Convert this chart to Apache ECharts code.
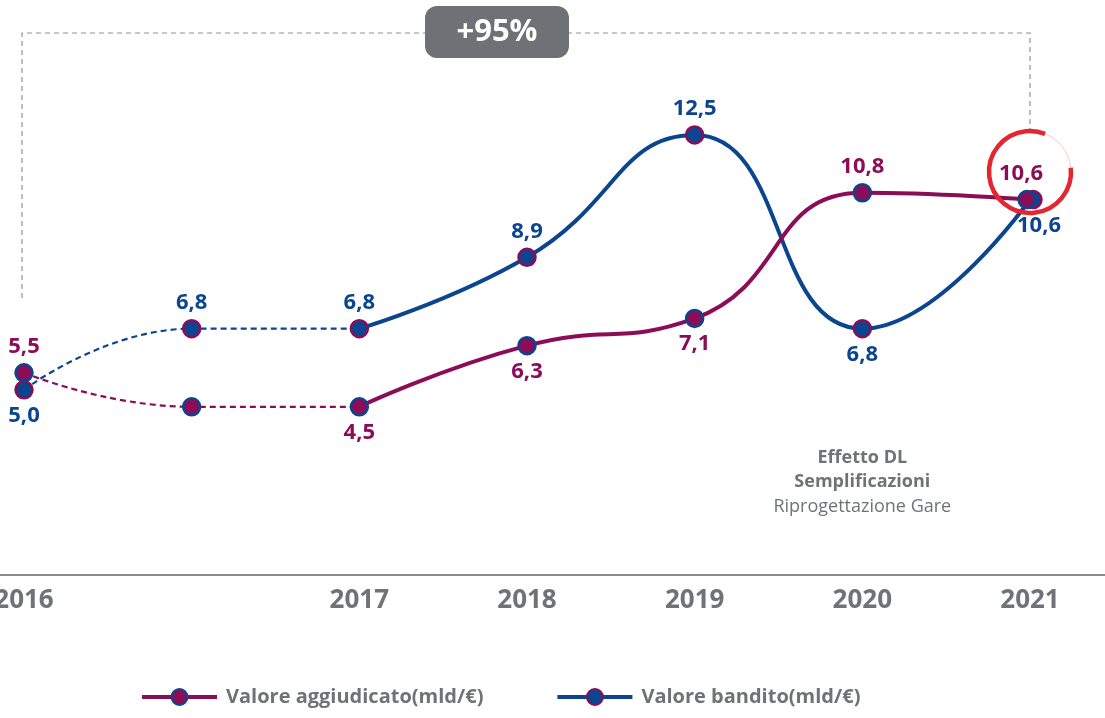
<!DOCTYPE html>
<html>
<head>
<meta charset="utf-8">
<title>Valore aggiudicato / bandito</title>
<script src="https://cdn.jsdelivr.net/npm/echarts@6/dist/echarts.min.js"></script>
<style>
  html, body { margin: 0; padding: 0; background: #fff; }
  #main { width: 1105px; height: 718px; }
</style>
</head>
<body>
<div id="main"></div>
<script>
// dati
var years = ['2016', '', '2017', '2018', '2019', '2020', '2021'];
var aggiudicato = [5.5, 4.5, 4.5, 6.3, 7.1, 10.8, 10.6];
var bandito = [5.0, 6.8, 6.8, 8.9, 12.5, 6.8, 10.6];
// dove mettere le etichette (null = nessuna)
var aggLabelPos = ['top', null, 'bottom', 'bottom', 'bottom', 'top', 'top'];
var banLabelPos = ['bottom', 'top', 'top', 'top', 'top', 'bottom', 'bottom'];
var lastDashed = 2; // fino al 2017 la linea e' tratteggiata

var PURPLE = '#8b0d57';
var BLUE = '#0b4590';
var GREY = '#6f7377';
var FONT = '"Open Sans", "Noto Sans", sans-serif';

function fmt(v) {
  return v.toFixed(1).replace('.', ',');
}

function makeItems(values, positions, color, dashed, lastShift) {
  return values.map(function (v, i) {
    var inPart = dashed ? i <= lastDashed : i >= lastDashed;
    if (!inPart) return null;
    var pos = positions[i];
    // il punto di raccordo lo disegna la serie continua
    var showSym = !(dashed && i === lastDashed);
    var isLast = i === values.length - 1;
    return {
      value: v,
      symbolSize: showSym ? 17 : 0,
      symbolOffset: isLast ? [lastShift, 0] : [0, 0],
      label: {
        show: showSym && pos != null,
        position: pos || 'top',
        distance: 5,
        offset: isLast ? [lastShift * 2, 0] : [0, 0],
        color: color,
        fontSize: 22,
        fontWeight: 'bold',
        fontFamily: FONT,
        formatter: function (p) { return fmt(p.value); }
      }
    };
  });
}

function makeSeries(name, values, positions, lineColor, border, dashed, z, lastShift) {
  return {
    name: name,
    type: 'line',
    smooth: 0.5,
    z: z,
    connectNulls: false,
    symbol: 'circle',
    data: makeItems(values, positions, lineColor, dashed, lastShift),
    lineStyle: {
      color: lineColor,
      width: dashed ? 2.2 : 4,
      type: dashed ? [6, 4] : 'solid'
    },
    itemStyle: {
      color: lineColor,
      borderColor: border,
      borderWidth: 2.5
    }
  };
}

var chart = echarts.init(document.getElementById('main'), null, { renderer: 'canvas' });

var option = {
  animation: false,
  backgroundColor: '#fff',
  grid: { left: 24, right: 75, top: 84, bottom: 143, outerBoundsMode: 'none', containLabel: false },
  legend: {
    data: ['Valore aggiudicato(mld/€)', 'Valore bandito(mld/€)'],
    left: 135,
    bottom: 6,
    itemWidth: 75,
    itemHeight: 20,
    itemGap: 72,
    lineStyle: { width: 4 },
    textStyle: { color: GREY, fontSize: 20, fontWeight: 'bold', fontFamily: FONT, padding: [0, 0, 0, 4] }
  },
  xAxis: {
    type: 'category',
    data: years,
    boundaryGap: false,
    axisLine: { show: false },
    axisTick: { show: false },
    axisLabel: {
      interval: 0,
      margin: 13,
      color: GREY,
      fontSize: 26,
      fontWeight: 'bold',
      fontFamily: FONT
    },
    splitLine: { show: false }
  },
  yAxis: {
    type: 'value',
    min: -0.45,
    max: 14,
    show: false,
    splitLine: { show: false }
  },
  series: [
    makeSeries('agg-tratteggio', aggiudicato, aggLabelPos, PURPLE, BLUE, true, 3, 0),
    makeSeries('Valore aggiudicato(mld/€)', aggiudicato, aggLabelPos, PURPLE, BLUE, false, 3, -3),
    makeSeries('ban-tratteggio', bandito, banLabelPos, BLUE, PURPLE, true, 2, 0),
    makeSeries('Valore bandito(mld/€)', bandito, banLabelPos, BLUE, PURPLE, false, 2, 3)
  ]
};

chart.setOption(option);

// annotazioni agganciate alle posizioni degli assi
var p2016 = chart.convertToPixel({ gridIndex: 0 }, [0, bandito[0]]);
var p2021 = chart.convertToPixel({ gridIndex: 0 }, [6, bandito[6]]);
var p2020x = chart.convertToPixel({ xAxisIndex: 0 }, 5);
var axisY = chart.convertToPixel({ yAxisIndex: 0 }, -0.45);
var topY = 33;
var ringCx = p2021[0], ringCy = 172, ringR = 41;

chart.setOption({
  graphic: [
    {
      type: 'line', silent: true, z: 1,
      shape: { x1: 0, y1: axisY, x2: 1105, y2: axisY },
      style: { stroke: '#8a8d90', lineWidth: 2 }
    },
    {
      type: 'polyline', silent: true, z: 1,
      shape: { points: [[p2016[0] - 2, 298], [p2016[0] - 2, topY], [p2021[0], topY], [p2021[0], ringCy - ringR - 2]] },
      style: { stroke: '#8f9296', lineWidth: 1.2, lineDash: [5, 4], fill: null }
    },
    {
      type: 'rect', silent: true, z: 5,
      shape: { x: 425, y: 6, width: 144, height: 52, r: 12 },
      style: { fill: '#6e7276' }
    },
    {
      type: 'text', silent: true, z: 6,
      x: 497, y: 32,
      style: {
        text: '+95%', fill: '#fff', fontSize: 31, fontWeight: 'bold', fontFamily: FONT,
        align: 'center', verticalAlign: 'middle'
      }
    },
    {
      type: 'arc', silent: true, z: 10,
      shape: { cx: ringCx, cy: ringCy, r: ringR, startAngle: -Math.PI / 30, endAngle: -Math.PI * 0.38, clockwise: true },
      style: { stroke: '#e3262f', lineWidth: 4.5, fill: null }
    },
    {
      type: 'arc', silent: true, z: 10,
      shape: { cx: ringCx, cy: ringCy, r: ringR, startAngle: -Math.PI * 0.38, endAngle: -Math.PI / 30, clockwise: true },
      style: { stroke: 'rgba(227,38,47,0.25)', lineWidth: 1, fill: null }
    },
    {
      type: 'text', silent: true,
      x: p2020x, y: 458,
      style: {
        text: 'Effetto DL', fill: GREY, fontSize: 18, fontWeight: 'bold',
        fontFamily: FONT, align: 'center', verticalAlign: 'middle'
      }
    },
    {
      type: 'text', silent: true,
      x: p2020x, y: 482,
      style: {
        text: 'Semplificazioni', fill: GREY, fontSize: 18, fontWeight: 'bold',
        fontFamily: FONT, align: 'center', verticalAlign: 'middle'
      }
    },
    {
      type: 'text', silent: true,
      x: p2020x, y: 507,
      style: {
        text: 'Riprogettazione Gare', fill: GREY, fontSize: 18,
        fontFamily: FONT, align: 'center', verticalAlign: 'middle'
      }
    }
  ]
});
</script>
</body>
</html>
